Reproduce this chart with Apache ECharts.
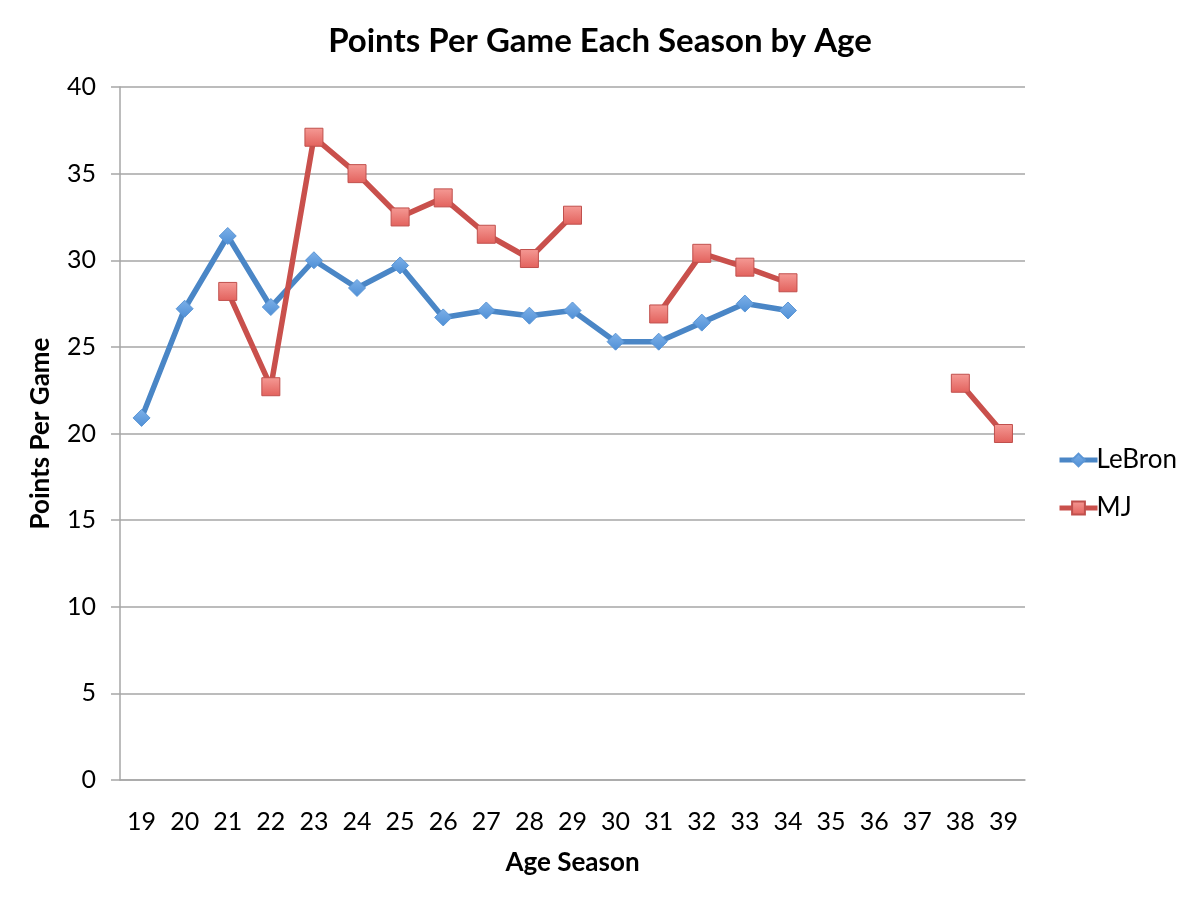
<!DOCTYPE html>
<html>
<head>
<meta charset="utf-8">
<script src="https://cdn.jsdelivr.net/npm/echarts@6/dist/echarts.min.js"></script>
<style>
  html, body { margin: 0; padding: 0; background: #fff; }
  #chart { width: 1200px; height: 900px; }
</style>
</head>
<body>
<div id="chart"></div>
<script>
// edades (categorias del eje x)
const ages = ['19', '20', '21', '22', '23', '24', '25', '26', '27', '28', '29',
  '30', '31', '32', '33', '34', '35', '36', '37', '38', '39'];

// puntos por partido, '-' = sin temporada
const lebron = [20.9, 27.2, 31.4, 27.3, 30.0, 28.4, 29.7, 26.7, 27.1, 26.8, 27.1,
  25.3, 25.3, 26.4, 27.5, 27.1, '-', '-', '-', '-', '-'];
const mj = ['-', '-', 28.2, 22.7, 37.1, 35.0, 32.5, 33.6, 31.5, 30.1, 32.6,
  '-', 26.9, 30.4, 29.6, 28.7, '-', '-', '-', 22.9, 20.0];

const yTicks = [0, 5, 10, 15, 20, 25, 30, 35, 40];

const FONT = 'Lato, "Open Sans", sans-serif';

const chart = echarts.init(document.getElementById('chart'));

const option = {
  backgroundColor: '#ffffff',
  animation: false,
  title: {
    text: 'Points Per Game Each Season by Age',
    left: 'center',
    top: 20,
    textStyle: { fontFamily: FONT, fontWeight: 'bold', fontSize: 33, color: '#000' }
  },
  legend: {
    orient: 'vertical',
    left: 1052,
    top: 442,
    itemGap: 22,
    itemWidth: 38,
    itemHeight: 16,
    lineStyle: { width: 5 },
    textStyle: { fontFamily: FONT, fontSize: 26, color: '#000', padding: [0, 0, 0, -6] },
    data: ['LeBron', 'MJ']
  },
  grid: { left: 120, right: 175, top: 87, bottom: 120 },
  xAxis: {
    type: 'category',
    data: ages,
    boundaryGap: true,
    name: 'Age Season',
    nameLocation: 'middle',
    nameGap: 70,
    nameTextStyle: { fontFamily: FONT, fontWeight: 'bold', fontSize: 26, color: '#000' },
    axisLine: { lineStyle: { color: '#a6a6a6', width: 1.5 } },
    axisTick: { show: false },
    axisLabel: { fontFamily: FONT, fontSize: 25, color: '#000', margin: 29, interval: 0 }
  },
  yAxis: {
    type: 'value',
    min: yTicks[0],
    max: yTicks[yTicks.length - 1],
    interval: 5,
    name: 'Points Per Game',
    nameLocation: 'middle',
    nameGap: 66,
    nameTextStyle: { fontFamily: FONT, fontWeight: 'bold', fontSize: 26, color: '#000' },
    axisLine: { show: true, lineStyle: { color: '#a6a6a6', width: 1.5 } },
    axisTick: { show: true, length: 9, lineStyle: { color: '#a6a6a6', width: 1.5 } },
    axisLabel: { fontFamily: FONT, fontSize: 25, color: '#000', margin: 24 },
    splitLine: { lineStyle: { color: '#a6a6a6', width: 1.5 } }
  },
  series: [
    {
      name: 'LeBron',
      type: 'line',
      data: lebron,
      connectNulls: false,
      symbol: 'diamond',
      symbolSize: 17,
      lineStyle: { color: '#4a86c6', width: 5.5 },
      itemStyle: {
        color: new echarts.graphic.LinearGradient(0, 0, 0, 1, [
          { offset: 0, color: '#7db0e8' },
          { offset: 1, color: '#4e8fd6' }
        ]),
        borderColor: '#5b96d6',
        borderWidth: 1
      }
    },
    {
      name: 'MJ',
      type: 'line',
      data: mj,
      connectNulls: false,
      symbol: 'rect',
      symbolSize: 18,
      lineStyle: { color: '#c9504c', width: 5.5 },
      itemStyle: {
        color: new echarts.graphic.LinearGradient(0, 0, 0, 1, [
          { offset: 0, color: '#f59a95' },
          { offset: 1, color: '#e2615c' }
        ]),
        borderColor: '#c0504d',
        borderWidth: 1
      }
    }
  ]
};

chart.setOption(option);
</script>
</body>
</html>
